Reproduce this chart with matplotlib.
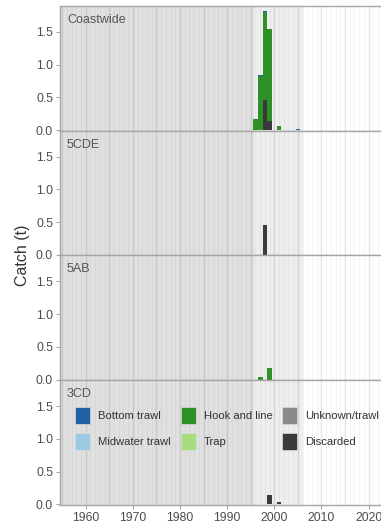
import matplotlib
matplotlib.use("Agg")
import matplotlib.pyplot as plt
from matplotlib.patches import Patch
import numpy as np

plt.rcParams['font.family'] = ['Liberation Sans', 'DejaVu Sans']

# ---------------- data ----------------
panels = ["Coastwide", "5CDE", "5AB", "3CD"]
gears = ["Bottom trawl", "Midwater trawl", "Hook and line", "Trap", "Unknown/trawl", "Discarded"]
gear_colors = ["#1F62A6", "#9DCAE3", "#2E9127", "#A8DC80", "#8A8A8A", "#3A3A3A"]
years = [1990, 1995, 1996, 1997, 1998, 1999, 2001, 2005, 2008]

# catch (t) by panel -> gear -> values aligned with `years`
catch = {
    "Coastwide": {
        "Bottom trawl":   [0, 0, 0, 0.03, 0.01, 0, 0, 0.025, 0],
        "Midwater trawl": [0, 0, 0, 0, 0, 0, 0, 0, 0],
        "Hook and line":  [0.006, 0.006, 0.17, 0.82, 1.35, 1.41, 0.06, 0, 0],
        "Trap":           [0, 0, 0, 0, 0, 0, 0, 0, 0],
        "Unknown/trawl":  [0, 0, 0, 0, 0, 0, 0, 0, 0.006],
        "Discarded":      [0, 0, 0, 0, 0.46, 0.14, 0, 0, 0],
    },
    "5CDE": {
        "Discarded":      [0, 0, 0, 0, 0.46, 0, 0, 0, 0],
    },
    "5AB": {
        "Hook and line":  [0, 0, 0, 0.045, 0, 0.18, 0, 0, 0],
    },
    "3CD": {
        "Discarded":      [0, 0, 0, 0, 0, 0.14, 0.03, 0, 0],
    },
}

yticks = [0.0, 0.5, 1.0, 1.5]
ytick_labels = ["0.0", "0.5", "1.0", "1.5"]
xticks = [1960, 1970, 1980, 1990, 2000, 2010, 2020]

# ---------------- layout ----------------
W, H = 381, 527
fig = plt.figure(figsize=(W / 100, H / 100), dpi=100)
fig.patch.set_facecolor("white")

left_px, right_px = 60, 385
tops = [6, 130.7, 255.4, 380.1]
ph = 124.6
x0 = 1960 - (85.7 - left_px) / 4.715
x1 = 1960 + (right_px - 85.7) / 4.715

text_col = "#4D4D4D"
border_col = "#A6A6A6"
stack_order = ["Discarded", "Unknown/trawl", "Trap", "Hook and line", "Midwater trawl", "Bottom trawl"]
cmap = dict(zip(gears, gear_colors))

axes = []
for i, name in enumerate(panels):
    top = tops[i]
    ax = fig.add_axes([left_px / W, 1 - (top + ph) / H, (right_px - left_px) / W, ph / H])
    axes.append(ax)
    ax.set_facecolor("white")
    ax.set_xlim(x0, x1)
    ax.set_ylim(-0.005, 1.895)
    # vertical year lines
    for yr in range(1955, 2024):
        if yr % 5 == 0:
            ax.axvline(yr, color="#E4E4E4", lw=1.0, zorder=0.5)
        else:
            ax.axvline(yr, color="#F5F5F5", lw=0.8, zorder=0.4)
    # shading
    ax.axvspan(x0, 1995.6, color="black", alpha=0.12, lw=0, zorder=1)
    ax.axvspan(1995.6, 2006.0, color="black", alpha=0.065, lw=0, zorder=1)
    # stacked bars
    bottom = np.zeros(len(years))
    for g in stack_order:
        vals = np.array(catch[name].get(g, [0] * len(years)), dtype=float)
        if vals.sum() > 0:
            ax.bar(years, vals, width=1.0, bottom=bottom, color=cmap[g], lw=0, zorder=3)
        bottom += vals
    # axes styling
    for s in ax.spines.values():
        s.set_color(border_col)
        s.set_linewidth(1.0)
    ax.set_yticks(yticks)
    ax.set_yticklabels(ytick_labels)
    ax.tick_params(axis="y", colors=border_col, labelcolor=text_col, labelsize=8.8, length=3, width=0.8, pad=2)
    ax.set_xticks(xticks)
    if i == len(panels) - 1:
        ax.tick_params(axis="x", colors=border_col, labelcolor=text_col, labelsize=8.8, length=3, width=0.8, pad=2)
    else:
        ax.tick_params(axis="x", length=0, labelbottom=False)
    ax.annotate(name, xy=(0, 1), xycoords="axes fraction", xytext=(7, -14),
                textcoords="offset pixels", ha="left", va="center", fontsize=9, color="#555555")

fig.text(22 / W, 1 - 255 / H, "Catch (t)", rotation=90, ha="center", va="center", fontsize=11.5, color="#333333")

handles = [Patch(facecolor=cmap[g], edgecolor="#DDDDDD", lw=0.5, label=g) for g in gears]
leg = axes[-1].legend(handles=handles, ncol=3, loc="upper left",
                      bbox_to_anchor=(75 / W, 1 - 407 / H), bbox_transform=fig.transFigure,
                      frameon=False, fontsize=8.1, borderpad=0, borderaxespad=0,
                      handlelength=1.35, handleheight=1.9, handletextpad=0.7,
                      labelspacing=0.85, columnspacing=0.88)
for t in leg.get_texts():
    t.set_color("#333333")

fig.savefig("out.png", dpi=100)
